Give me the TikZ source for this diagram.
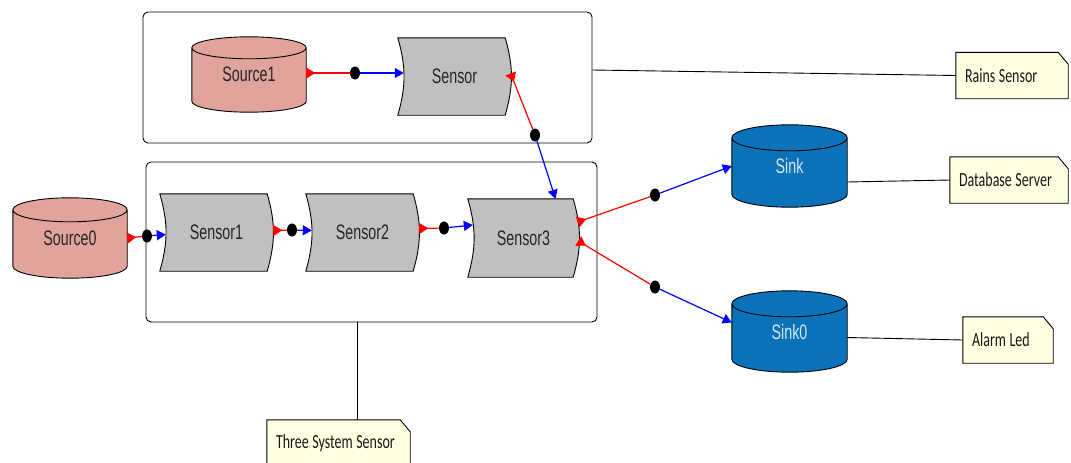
\documentclass[tikz,border=0pt]{standalone}
\usepackage{fontspec}
\setmainfont{Liberation Sans}
\newfontfamily\blockfont[FakeStretch=0.68]{Liberation Sans}
\newfontfamily\notefont[FakeStretch=0.7]{Carlito}
\usetikzlibrary{arrows.meta,shapes.geometric,backgrounds,calc}

\definecolor{srcpink}{RGB}{224,164,156}
\definecolor{sinkblue}{RGB}{10,114,184}
\definecolor{sensgrey}{RGB}{192,192,192}
\definecolor{notecream}{RGB}{255,255,225}
\definecolor{sinktext}{RGB}{214,232,244}

\tikzset{
  block/.style={inner sep=0pt, font=\blockfont\fontsize{21}{21}\selectfont, text=black!85},
  sensorblk/.style={block, minimum width=107, minimum height=77,
    execute at begin node={\hspace*{6pt}}},
  groupbox/.style={draw=black, rounded corners=5pt, line width=0.9pt, inner sep=0pt},
  joint/.style={ellipse, fill=black, inner sep=0pt, minimum width=10pt, minimum height=13pt},
  outwire/.style={draw=red, line width=1.2pt, {Triangle[reversed,length=9pt,width=11pt]}-},
  inwire/.style={draw=blue, line width=1.2pt, -{Triangle[length=9pt,width=10pt]}},
  notebox/.style={inner xsep=9pt, inner ysep=0pt, minimum height=46pt, align=left,
    font=\notefont\fontsize{20}{20}\selectfont, text=black!90,
    execute at begin node={\spaceskip=3.5pt\relax}},
  noteline/.style={draw=black, line width=0.9pt},
}

\newcommand{\tank}[3]{%
  \begin{pgfonlayer}{background}
  \path let \p1=(#1.north west), \p2=(#1.south east), \n1={(\x2-\x1)/2} in
    [draw=black, line width=0.9pt, fill=#2]
    (\x1,\y1-#3) -- (\x1,\y2+#3)
      arc[start angle=180, end angle=360, x radius=\n1, y radius=#3]
      -- (\x2,\y1-#3)
      arc[start angle=0, end angle=180, x radius=\n1, y radius=#3] -- cycle
    (\x1,\y1-#3) arc[start angle=180, end angle=360, x radius=\n1, y radius=#3];
  \end{pgfonlayer}}

\newcommand{\sensorshape}[1]{%
  \begin{pgfonlayer}{background}
  \draw[fill=sensgrey, line width=0.9pt] (#1.north west) -- (#1.north east)
    to[bend left=16] (#1.south east) -- (#1.south west)
    to[bend right=16] (#1.north west) -- cycle;
  \end{pgfonlayer}}

\newcommand{\notefold}[1]{%
  \begin{pgfonlayer}{background}
  \draw[fill=notecream, line width=0.9pt] (#1.south west) -- (#1.north west)
    -- ([xshift=-10pt]#1.north east) -- ([yshift=-12pt]#1.north east)
    -- (#1.south east) -- cycle;
  \end{pgfonlayer}}

\begin{document}
\begin{tikzpicture}[x=1pt, y=-1pt]
  \begin{pgfonlayer}{background}
    \fill[white] (0,0) rectangle (1071,463);
  \end{pgfonlayer}
  \useasboundingbox (0,0) rectangle (1071,463);

  \node[groupbox, minimum width=449, minimum height=131] (rainsgrp) at (367.5,77.5) {};
  \node[groupbox, minimum width=451, minimum height=160] (threegrp) at (371.5,242) {};

  \node[block, minimum width=114, minimum height=75] (source1) at (249,74.5) {Source1};
  \tank{source1}{srcpink}{11pt}
  \node[block, minimum width=114, minimum height=80] (source0) at (70,238) {Source0};
  \tank{source0}{srcpink}{12pt}
  \node[block, text=sinktext, minimum width=115, minimum height=82] (sink) at (789.5,166) {Sink};
  \tank{sink}{sinkblue}{13pt}
  \node[block, text=sinktext, minimum width=115, minimum height=81] (sink0) at (789.5,331.5) {Sink0};
  \tank{sink0}{sinkblue}{13pt}

  \node[sensorblk] (sensor) at (451.5,76.5) {Sensor};
  \sensorshape{sensor}
  \node[sensorblk] (sensor1) at (213.5,232.5) {Sensor1};
  \sensorshape{sensor1}
  \node[sensorblk] (sensor2) at (359.5,232.5) {Sensor2};
  \sensorshape{sensor2}
  \node[sensorblk, minimum width=105, minimum height=78] (sensor3) at (520.5,238) {Sensor3};
  \sensorshape{sensor3}

  \node[joint] (j1) at (355,73) {};
  \node[joint] (j2) at (535,135) {};
  \node[joint] (j3) at (147,236) {};
  \node[joint] (j4) at (292,230) {};
  \node[joint] (j5) at (444,228) {};
  \node[joint] (j6) at (655,195) {};
  \node[joint] (j7) at (655,287) {};

  \draw[outwire] ([yshift=1.5pt]source1.east) -- (j1);
  \draw[inwire] (j1) -- ([xshift=6pt,yshift=3.5pt]sensor.west);
  \draw[outwire] ([xshift=5.5pt,yshift=3pt]sensor.east) -- (j2);
  \draw[inwire] (j2) -- ([xshift=35pt]sensor3.north);
  \draw[outwire] (source0.east) -- (j3);
  \draw[inwire] (j3) -- ([xshift=6pt,yshift=-2pt]sensor1.west);
  \draw[outwire] ([xshift=6pt,yshift=2pt]sensor1.east) -- (j4);
  \draw[inwire] (j4) -- ([xshift=6pt,yshift=2pt]sensor2.west);
  \draw[outwire] ([xshift=6pt,yshift=4pt]sensor2.east) -- (j5);
  \draw[inwire] (j5) -- ([xshift=5pt,yshift=13pt]sensor3.west);
  \draw[outwire] ([xshift=4.5pt,yshift=16pt]sensor3.east) -- (j6);
  \draw[inwire] (j6) -- (sink.west);
  \draw[outwire] ([xshift=5pt,yshift=-3pt]sensor3.east) -- (j7);
  \draw[inwire] (j7) -- ([yshift=9pt]sink0.west);

  \node[notebox, text width=94] (rainsnote) at (1012,75.5) {Rains Sensor};
  \notefold{rainsnote}
  \node[notebox, text width=100] (dbnote) at (1009,180) {Database Server};
  \notefold{dbnote}
  \node[notebox, text width=72] (alarmnote) at (1008,340) {Alarm Led};
  \notefold{alarmnote}
  \node[notebox, text width=125] (threenote) at (338.5,443) {Three System Sensor};
  \notefold{threenote}

  \draw[noteline] ([yshift=7.5pt]rainsgrp.east) -- (rainsnote.west);
  \draw[noteline] ([yshift=-16pt]sink.east) -- (dbnote.west);
  \draw[noteline] ([yshift=-6pt]sink0.east) -- (alarmnote.west);
  \coordinate (tgfoot) at ([xshift=-14.5pt]threegrp.south);
  \draw[noteline] (tgfoot) -- (tgfoot |- threenote.north);
\end{tikzpicture}
\end{document}
